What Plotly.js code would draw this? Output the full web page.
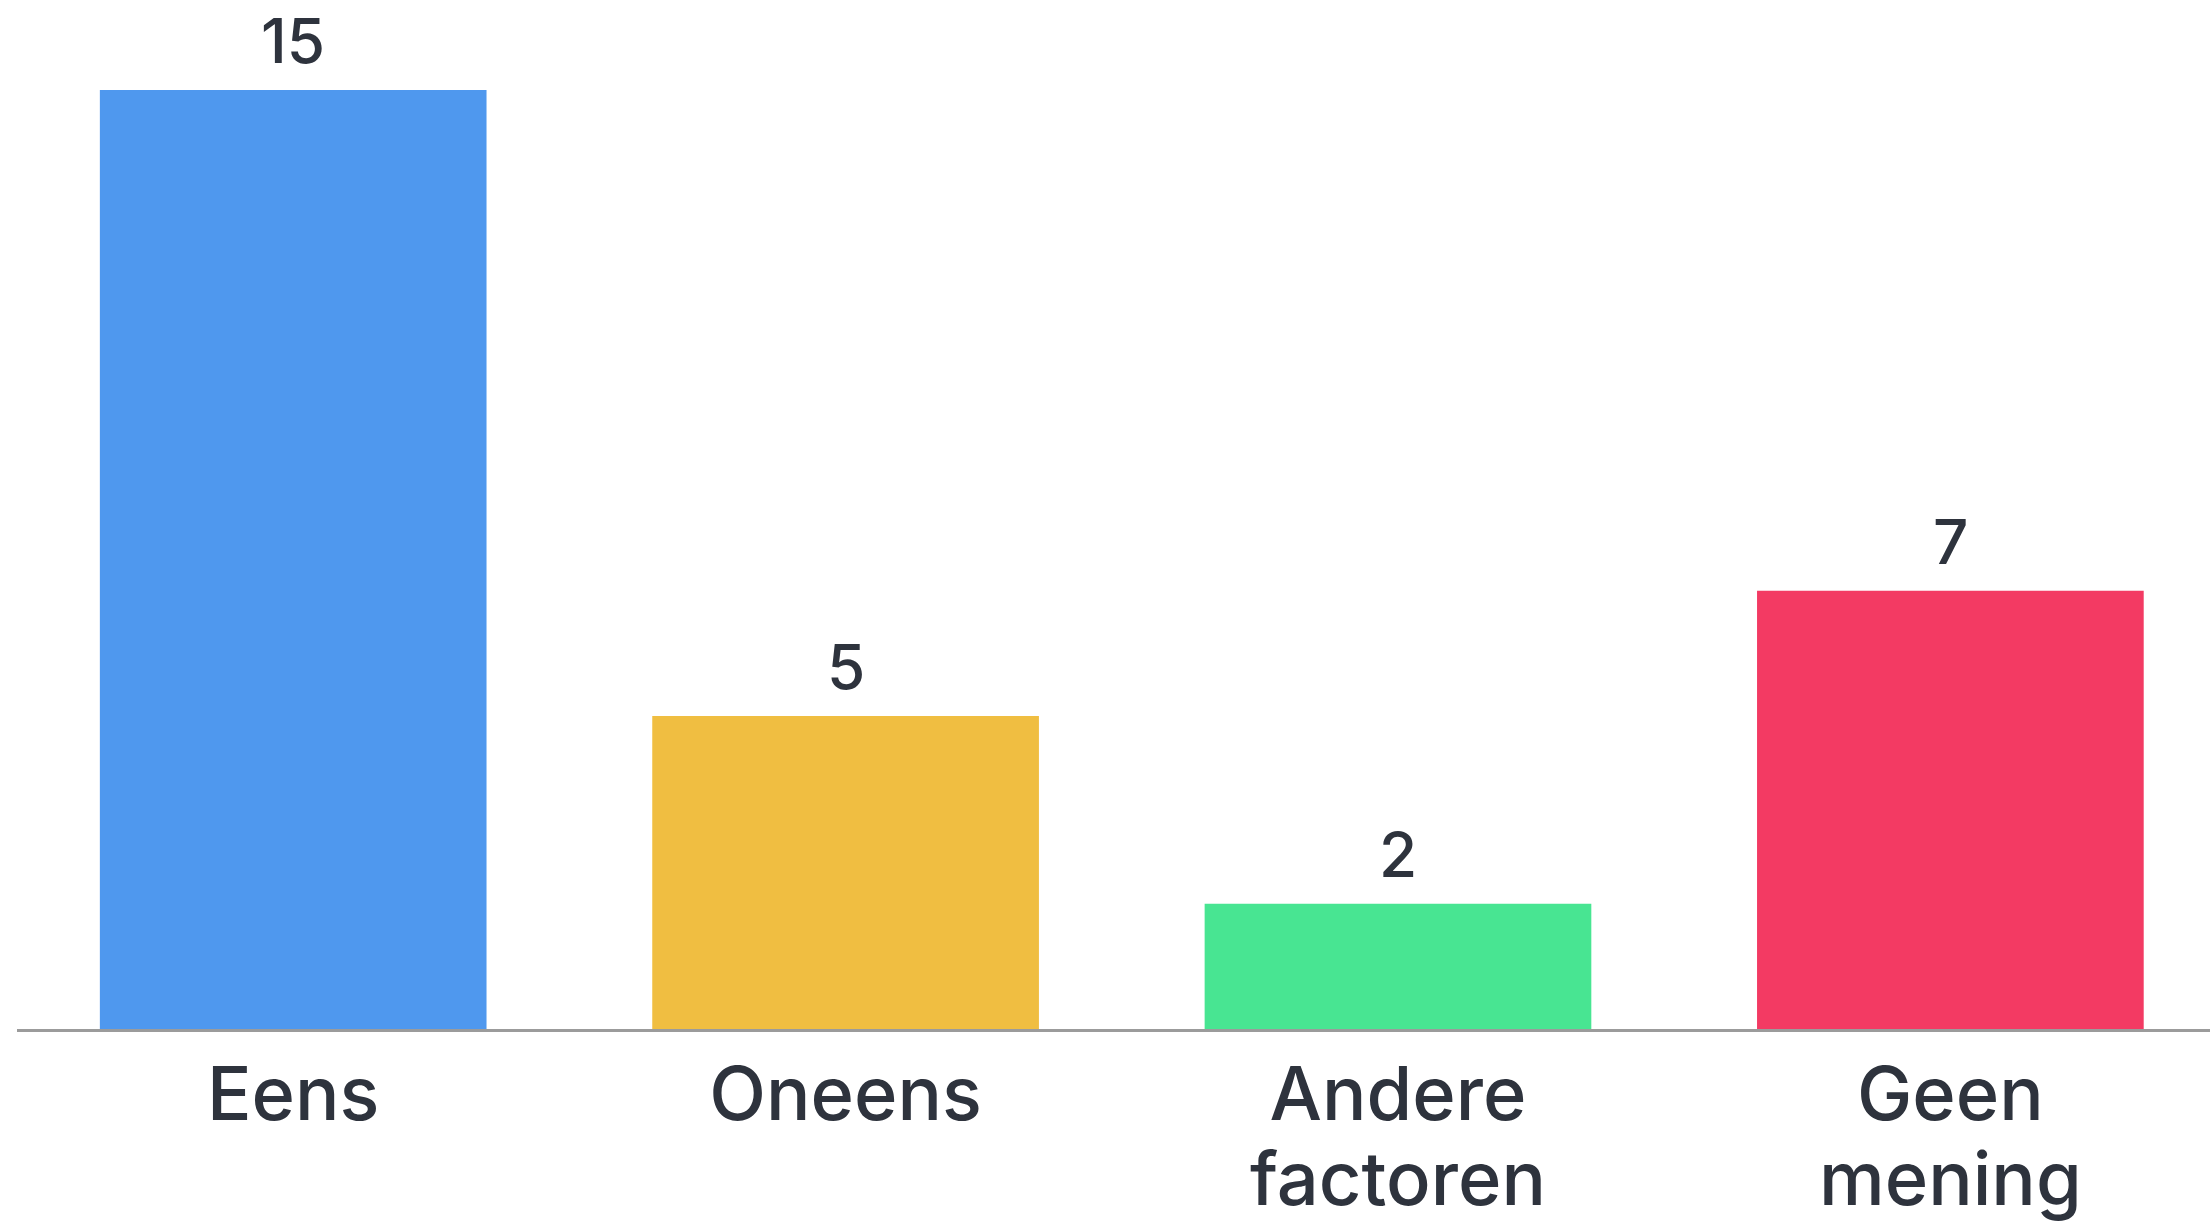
<!DOCTYPE html>
<html>
<head>
<meta charset="utf-8">
<script src="https://cdn.plot.ly/plotly-3.0.1.min.js"></script>
<style>html,body{margin:0;padding:0;background:#fff;}#chart{width:2210px;height:1225px;}</style>
</head>
<body>
<div id="chart"></div>
<script>
const categories = ["Eens", "Oneens", "Andere factoren", "Geen mening"];
const tickLines = [["Eens"], ["Oneens"], ["Andere", "factoren"], ["Geen", "mening"]];
const values = [15, 5, 2, 7];
const barColors = ["#4F98EE", "#F0BE41", "#48E592", "#F33A63"];
const valueLabels = ["15", "5", "2", "7"];

const textColor = "#2E333D";
const font = "Inter, Lato, sans-serif";

const tickText = tickLines.map(lines =>
  lines.map(l => '<span style="font-size:74px">' + l + '</span>').join("<br>"));

const trace = {
  type: "bar",
  x: categories,
  y: values,
  marker: {color: barColors},
  hoverinfo: "none"
};

const annotations = categories.map((c, i) => ({
  x: c, y: values[i], xref: "x", yref: "y",
  text: valueLabels[i], showarrow: false,
  yanchor: "bottom", yshift: 10,
  font: {family: font, size: 62, color: textColor, weight: 500}
}));

const layout = {
  width: 2210, height: 1225,
  margin: {l: 17, r: 0, t: 90, b: 196},
  paper_bgcolor: "#ffffff", plot_bgcolor: "#ffffff",
  showlegend: false,
  bargap: 0.30,
  xaxis: {
    type: "category",
    range: [-0.5, 3.47],
    tickmode: "array", tickvals: categories, ticktext: tickText,
    showline: true, linecolor: "#9b9b9b", linewidth: 3,
    showgrid: false, zeroline: false, ticks: "",
    ticklabelstandoff: 10,
    tickfont: {family: font, size: 65, color: textColor, weight: 500},
    fixedrange: true
  },
  yaxis: {
    range: [0, 15],
    visible: false, showgrid: false, zeroline: false,
    fixedrange: true
  },
  annotations: annotations
};

Plotly.newPlot("chart", [trace], layout, {displayModeBar: false, staticPlot: true});
</script>
</body>
</html>
